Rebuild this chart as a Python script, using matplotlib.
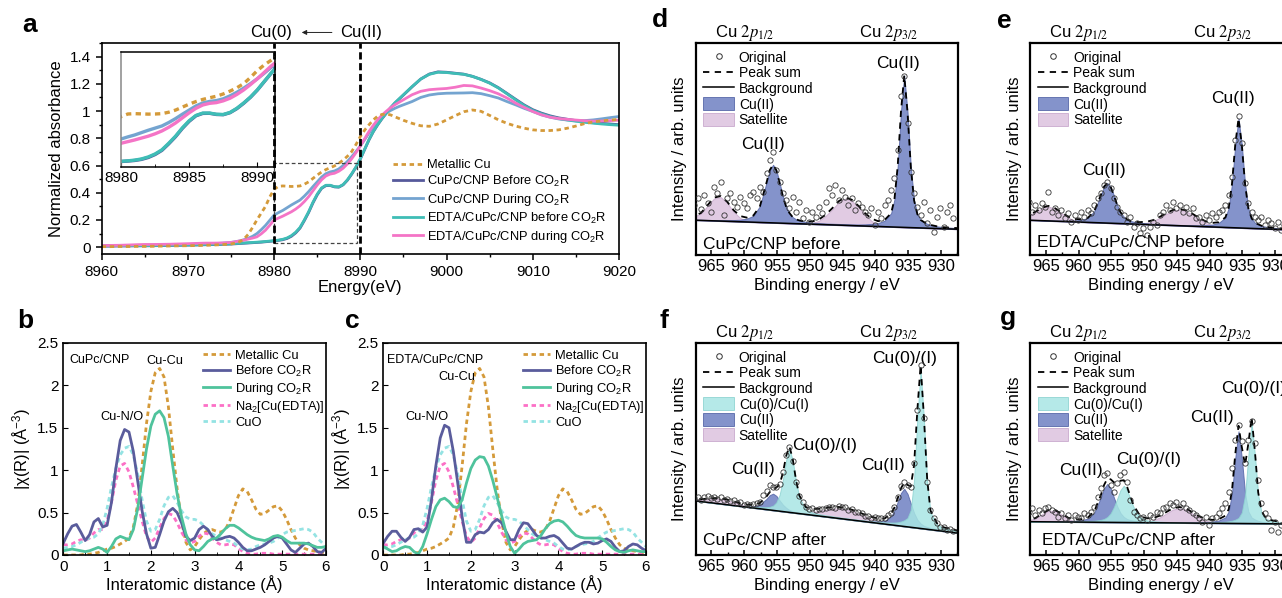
import numpy as np
import matplotlib
matplotlib.use("Agg")
import matplotlib.pyplot as plt
from matplotlib.lines import Line2D
from matplotlib.patches import Patch, Rectangle
from matplotlib.ticker import MultipleLocator, FuncFormatter
import matplotlib.transforms as mtransforms

plt.rcParams["font.family"] = ["Liberation Sans", "DejaVu Sans"]
plt.rcParams["mathtext.fontset"] = "custom"
plt.rcParams["mathtext.rm"] = "Liberation Sans"
plt.rcParams["mathtext.it"] = "Liberation Sans:italic"
plt.rcParams["mathtext.bf"] = "Liberation Sans:bold"
plt.rcParams["axes.linewidth"] = 1.2

# ---------------- panel a : Cu K-edge XANES ----------------
energy_a = np.concatenate([np.arange(8960, 8975.5, 1.0),
                           np.arange(8975.5, 8995.25, 0.5),
                           np.arange(8996, 9020.5, 1.0)])
xanes_metal = [.004, .004, .005, .005, .006, .006, .007, .008, .009, .010, .011, .012, .014, .016, .019, .024,
               .030, .040, .060, .095, .145, .200, .250, .300, .370, .425,
               .447, .450, .448, .446, .447, .450, .462, .480, .505, .530,
               .552, .570, .584, .597, .616, .640, .668, .703, .755, .813,
               .860, .899, .935, .962, .975, .978, .972, .958, .945, .932,
               .910, .892, .888, .905, .935, .966, .995, 1.008, .998, .968, .936, .910, .890, .874, .862,
               .857, .857, .862, .874, .890, .908, .920, .928, .934, .938]
xanes_cupc_before = [.008, .008, .009, .009, .010, .010, .011, .012, .013, .014, .015, .016, .018, .019, .021, .023,
                     .025, .027, .029, .031, .033, .035, .037, .040, .043, .046,
                     .050, .055, .064, .080, .105, .140, .195, .255, .325, .385,
                     .432, .452, .453, .443, .441, .458, .492, .537, .588, .648,
                     .718, .788, .848, .898, .943, .983, 1.022, 1.058, 1.088, 1.118,
                     1.178, 1.235, 1.272, 1.288, 1.285, 1.278, 1.271, 1.255, 1.233, 1.207, 1.172, 1.130, 1.087,
                     1.045, 1.010, .985, .965, .950, .940, .930, .922, .915, .910, .905, .900]
xanes_cupc_during = [.010, .011, .012, .013, .014, .015, .016, .017, .018, .019, .020, .022, .024, .026, .030, .035,
                     .040, .046, .055, .066, .080, .100, .128, .160, .198, .236,
                     .254, .270, .290, .310, .328, .346, .375, .408, .445, .480,
                     .515, .540, .553, .560, .575, .600, .630, .665, .703, .744,
                     .790, .838, .882, .924, .958, .985, 1.004, 1.020, 1.034, 1.046,
                     1.070, 1.100, 1.118, 1.127, 1.131, 1.132, 1.133, 1.135, 1.128, 1.113, 1.096, 1.070, 1.046,
                     1.020, .997, .972, .955, .942, .934, .929, .930, .935, .943, .952, .960]
xanes_edta_before = [.010, .010, .011, .011, .012, .012, .013, .014, .015, .016, .017, .018, .020, .021, .023, .025,
                     .027, .029, .031, .033, .035, .037, .039, .042, .045, .048,
                     .052, .058, .068, .085, .110, .145, .200, .260, .330, .390,
                     .435, .455, .455, .445, .443, .460, .495, .540, .590, .650,
                     .720, .790, .850, .900, .945, .985, 1.025, 1.060, 1.090, 1.120,
                     1.180, 1.235, 1.270, 1.285, 1.283, 1.276, 1.270, 1.255, 1.232, 1.205, 1.170, 1.127, 1.083,
                     1.040, 1.005, .980, .960, .945, .935, .925, .918, .911, .905, .900, .896]
xanes_edta_during = [.012, .013, .014, .016, .018, .020, .020, .021, .022, .024, .026, .028, .030, .030, .031, .035,
                     .040, .046, .052, .060, .067, .076, .098, .125, .162, .200,
                     .214, .228, .244, .260, .280, .304, .335, .371, .414, .457,
                     .495, .523, .537, .543, .558, .580, .612, .650, .695, .744,
                     .797, .850, .895, .936, .970, .998, 1.024, 1.046, 1.065, 1.083,
                     1.120, 1.145, 1.157, 1.162, 1.166, 1.175, 1.188, 1.185, 1.169, 1.150, 1.127, 1.096, 1.059,
                     1.027, .997, .973, .955, .945, .939, .934, .929, .926, .927, .930, .933]
labels_a = ["Metallic Cu", "CuPc/CNP Before CO$_2$R", "CuPc/CNP During CO$_2$R",
            "EDTA/CuPc/CNP before CO$_2$R", "EDTA/CuPc/CNP during CO$_2$R"]

# ---------------- panels b, c : FT-EXAFS ----------------
r_dist = np.round(np.arange(0, 6.05, 0.1), 1)
exafs_metal = [0, 0, 0, 0, 0, .01, .01, .02, .03, .05, .07, .08, .10, .13, .16, .20, .33, .60, 1.05, 1.55,
               1.93, 2.15, 2.20, 2.10, 1.75, 1.25, .78, .40, .15, .06, .10, .18, .25, .29, .30, .28, .27, .30, .40, .55,
               .70, .78, .75, .65, .54, .48, .49, .53, .57, .58, .52, .42, .30, .20, .12, .08, .06, .05, .04, .03, .02]
exafs_na2edta = [.12, .12, .13, .16, .18, .17, .20, .26, .30, .30, .40, .62, .88, 1.05, 1.08, .98, .80, .60, .40, .22,
                 .15, .20, .32, .43, .49, .47, .38, .27, .18, .14, .16, .22, .26, .25, .20, .15, .12, .12, .13, .12,
                 .08, .04, .02, .01, .01, .02, .02, .02, .01, .01, .01, .01, .01, .01, .01, .01, .01, .01, .01, .01, .01]
exafs_cuo = [.08, .09, .10, .12, .15, .18, .20, .21, .25, .35, .55, .80, 1.02, 1.18, 1.26, 1.28, 1.18, .95, .65, .40,
             .28, .30, .42, .58, .68, .70, .62, .52, .45, .42, .42, .40, .35, .30, .25, .22, .20, .18, .16, .14,
             .10, .07, .06, .07, .10, .12, .13, .14, .16, .20, .24, .27, .28, .29, .30, .31, .30, .27, .20, .15, .10]
b_before = [.14, .25, .34, .36, .27, .17, .24, .39, .43, .33, .35, .62, 1.02, 1.35, 1.48, 1.45, 1.22, .87, .52, .25,
            .08, .09, .24, .40, .51, .55, .50, .38, .22, .17, .20, .30, .34, .30, .22, .18, .19, .21, .22, .20,
            .15, .09, .05, .05, .07, .09, .12, .16, .20, .22, .20, .13, .06, .03, .08, .13, .14, .10, .04, .03, .08]
b_during = [.05, .06, .07, .06, .05, .04, .05, .07, .09, .07, .03, .10, .19, .22, .20, .18, .30, .55, .90, 1.25,
            1.52, 1.66, 1.70, 1.62, 1.40, 1.05, .72, .45, .25, .12, .06, .05, .10, .16, .19, .20, .25, .31, .35, .35,
            .32, .28, .24, .21, .19, .18, .17, .19, .22, .23, .21, .17, .14, .14, .14, .14, .13, .11, .09, .09, .10]
c_before = [.14, .22, .28, .28, .21, .16, .21, .30, .31, .27, .33, .65, 1.05, 1.38, 1.53, 1.50, 1.22, .85, .45, .15,
            .15, .24, .27, .26, .30, .38, .42, .38, .28, .18, .18, .30, .38, .37, .30, .23, .20, .20, .22, .23,
            .20, .14, .08, .07, .10, .13, .15, .15, .13, .14, .17, .19, .16, .09, .04, .05, .10, .13, .12, .08, .05]
c_during = [.10, .07, .04, .05, .08, .10, .09, .04, .01, .10, .25, .42, .57, .65, .67, .63, .57, .56, .65, .85,
            1.02, 1.12, 1.16, 1.15, 1.05, .88, .68, .47, .27, .10, .02, .07, .13, .16, .17, .18, .23, .31, .37, .40,
            .41, .39, .34, .28, .23, .21, .20, .20, .20, .20, .19, .15, .10, .06, .04, .03, .05, .06, .05, .04, .04]

# ---------------- panels d-g : Cu 2p XPS ----------------
E_fit = [968.6, 966.6, 965.6, 964.6, 963.6, 962.6, 961.6, 960.6, 959.6, 958.6, 957.6,
         956.6, 956.1, 955.6, 955.1, 954.6, 954.1, 953.6, 953.1, 952.6, 952.1, 951.6,
         950.6, 949.6, 948.6, 947.6, 946.6, 945.6, 944.6, 943.6, 942.6, 941.6, 940.6, 939.6, 938.6, 937.6,
         937.1, 936.6, 936.1, 935.6, 935.1, 934.6, 934.1, 933.6, 933.1, 932.6, 932.1, 931.6,
         930.6, 929.6, 927.1]
E_bg = [968.6, 927.1]
E_orig = np.arange(967.6, 927.85, -0.5)

d_cu2 = [.015, .02, .02, .025, .03, .035, .045, .06, .10, .19, .49,
         1.20, 1.58, 1.74, 1.58, 1.20, .80, .49, .31, .19, .13, .10,
         .06, .045, .04, .035, .035, .035, .035, .035, .04, .05, .07, .10, .18, .41,
         .82, 1.82, 3.46, 4.55, 3.46, 1.82, .82, .41, .24, .18, .13, .10,
         .065, .045, .03]
d_sat = [.03, .20, .44, .67, .72, .55, .29, .11, .03, .01, 0,
         0, 0, 0, 0, 0, 0, 0, 0, 0, 0, 0,
         .01, .04, .11, .26, .46, .68, .80, .74, .56, .34, .16, .06, .02, 0,
         0, 0, 0, 0, 0, 0, 0, 0, 0, 0, 0, 0,
         0, 0, 0]
d_bg = [0.30, 0.02]
d_orig = [.75, .95, .62, 1.05, .80, .55, 1.30, 1.10, 1.45, .45,
          .95, 1.10, .85, .70, 1.00, .80, .65, 1.05, 1.15, .95,
          1.30, 1.15, 1.70, 2.10, 2.35, 1.80, 1.45, 1.10, .90, .65,
          1.00, .55, .85, .35, .60, .25, .55, .40, .70, .50,
          .85, 1.25, 1.05, 1.35, .90, 1.20, 1.00, .75, .95, .60,
          .80, .70, .55, .45, .65, .15, .55, .35, .75, .90,
          1.20, 1.55, 2.40, 4.00, 4.60, 3.20, 1.75, 1.10, .70, .45,
          .85, .20, .60, -.05, .40, .65, .10, .55, .75, .35]

e_cu2 = [.01, .015, .015, .02, .02, .025, .03, .04, .07, .13, .34,
         .83, 1.09, 1.20, 1.09, .83, .55, .34, .21, .13, .09, .07,
         .045, .035, .03, .025, .025, .025, .025, .025, .03, .035, .05, .07, .13, .30,
         .59, 1.31, 2.49, 3.28, 2.49, 1.31, .59, .30, .17, .13, .09, .07,
         .047, .032, .02]
e_sat = [.07, .24, .37, .43, .37, .24, .12, .045, .015, 0, 0,
         0, 0, 0, 0, 0, 0, 0, 0, 0, 0, 0,
         .02, .05, .11, .22, .34, .44, .48, .44, .34, .22, .11, .05, .02, 0,
         0, 0, 0, 0, 0, 0, 0, 0, 0, 0, 0, 0,
         0, 0, 0]
e_bg = [0.30, 0.0]
e_orig = [.85, .55, .75, .60, .80, .70, 1.15, .55, .65, .45,
          .60, .35, .50, .25, .45, .30, .55, .40, .60, .50,
          .75, .95, 1.10, 1.35, 1.45, 1.25, .95, .70, .55, .45,
          .25, .40, .10, .20, -.10, .05, -.15, .10, .25, .15,
          .45, .55, .75, .60, .85, .65, .75, .55, .70, .50,
          .65, .35, .40, .25, .45, .30, .50, .40, .55, .60,
          .75, 1.05, 1.60, 2.70, 3.40, 2.60, 1.40, .80, .55, .40,
          .30, .40, .15, .30, .20, .05, .25, .00, .15, .05]

f_cu0 = [.007, .008, .009, .01, .011, .013, .015, .018, .023, .032, .048,
         .072, .095, .14, .25, .49, .95, 1.56, 1.90, 1.56, .95, .49,
         .146, .079, .056, .044, .04, .035, .033, .032, .032, .033, .036, .04, .049, .068,
         .08, .10, .135, .185, .265, .52, 1.43, 3.28, 4.75, 3.28, 1.43, .52,
         .18, .095, .05]
f_cu2 = [.003, .004, .005, .006, .007, .009, .012, .017, .026, .045, .125,
         .32, .445, .5, .445, .32, .205, .125, .07, .045, .033, .026,
         .017, .014, .011, .01, .01, .011, .012, .014, .018, .024, .034, .053, .09, .25,
         .44, .71, .99, 1.13, .99, .71, .44, .25, .147, .09, .068, .053,
         .034, .024, .016]
f_sat = [.016, .055, .096, .135, .15, .135, .096, .055, .026, .009, .003,
         0, 0, 0, 0, 0, 0, .001, .002, .004, .008, .027,
         .054, .096, .15, .21, .264, .296, .296, .264, .21, .15, .096, .054, .027, .013,
         .008, .005, .003, .002, .001, 0, 0, 0, 0, 0, 0, 0,
         0, 0, 0]
f_bg = [1.0, 0.0]
f_orig = [1.05, 1.08, 1.00, 1.10, 1.12, 1.05, 1.10, 1.02, 1.08, 1.00,
          1.04, .97, .99, .92, .93, .86, .89, .84, .87, .90,
          .95, 1.15, 1.28, 1.45, 1.40, 1.38, 1.47, 1.85, 2.35, 2.58,
          2.18, 1.55, 1.12, .95, .80, .73, .75, .70, .74, .72,
          .77, .79, .80, .76, .81, .78, .79, .71, .72, .64,
          .63, .60, .53, .52, .47, .48, .45, .46, .47, .55,
          .62, .80, 1.10, 1.42, 1.55, 1.45, 1.40, 2.10, 3.70, 5.05,
          3.45, 1.55, .70, .45, .30, .18, .20, .10, .14, .08]

g_cu0 = [.004, .006, .007, .008, .009, .011, .013, .017, .022, .031, .044,
         .072, .10, .16, .27, .46, .71, .97, 1.10, .97, .71, .46,
         .16, .072, .044, .034, .027, .023, .02, .018, .018, .018, .02, .024, .032, .048,
         .062, .08, .112, .166, .33, .85, 2.04, 3.0, 2.04, .85, .33, .165,
         .078, .046, .025]
g_cu2 = [.007, .009, .010, .012, .015, .018, .026, .037, .058, .104, .28,
         .74, 1.02, 1.15, 1.02, .74, .48, .28, .167, .104, .075, .058,
         .037, .03, .022, .02, .018, .017, .018, .018, .021, .025, .033, .049, .085, .18,
         .36, .90, 1.96, 2.76, 1.96, .90, .36, .18, .124, .083, .06, .047,
         .03, .021, .014]
g_sat = [.012, .09, .22, .33, .33, .22, .09, .026, .005, 0, 0,
         0, 0, 0, 0, 0, 0, 0, 0, 0, 0, 0,
         0, .028, .075, .16, .28, .40, .44, .40, .28, .16, .075, .028, .008, .002,
         0, 0, 0, 0, 0, 0, 0, 0, 0, 0, 0, 0,
         0, 0, 0]
g_bg = [0.15, 0.08]
g_orig = [.45, .55, .35, .50, .40, .55, .60, .50, .45, .30,
          .40, .25, .35, .20, .35, .30, .25, .40, .35, .45,
          .60, .90, 1.15, 1.55, 1.60, 1.25, 1.05, 1.30, 1.55, 1.65,
          1.35, .80, .45, .35, .25, .30, .20, .35, .30, .45,
          .40, .55, .60, .70, .65, .75, .60, .70, .55, .50,
          .40, .35, .25, .15, .30, .05, .25, .30, .40, .55,
          .70, 1.05, 1.75, 2.60, 3.05, 2.55, 1.90, 2.60, 3.15, 2.50,
          1.40, .70, .40, .25, -.10, .15, -.15, .05, .10, .00]

# ---------------- styling ----------------
C_METAL = "#d49a3a"
C_CUPC_B = "#56599b"
C_CUPC_D = "#74a4d0"
C_EDTA_B = "#3fbdb6"
C_EDTA_D = "#f474c6"
C_BEFORE = "#5a5c9c"
C_DURING = "#4fc39c"
C_NA2 = "#fc70c6"
C_CUO = "#94e3e3"
C_CU2 = "#6f80c2"
C_SAT = "#dcc2de"
C_CU0 = "#a8e6e4"
DOT = (0, (1.6, 1.3))

W, H = 1282, 598
fig = plt.figure(figsize=(W / 100, H / 100), dpi=100)


def frac_box(left, top, right, bottom):
    return [left / W, 1 - bottom / H, (right - left) / W, (bottom - top) / H]


fmt_g = FuncFormatter(lambda v, p: "%g" % v)

# ================= panel a =================
axa = fig.add_axes(frac_box(101.7, 43, 619, 254))
series_a = [(xanes_cupc_before, C_CUPC_B, "-"), (xanes_cupc_during, C_CUPC_D, "-"),
            (xanes_edta_before, C_EDTA_B, "-"), (xanes_edta_during, C_EDTA_D, "-"),
            (xanes_metal, C_METAL, DOT)]
handles_a = {}
for vals, col, ls in series_a:
    ln, = axa.plot(energy_a, vals, color=col, lw=2.0, ls=ls)
    handles_a[col] = ln
axa.set_xlim(8960, 9020)
axa.set_ylim(-0.05, 1.5)
axa.xaxis.set_major_locator(MultipleLocator(10))
axa.xaxis.set_minor_locator(MultipleLocator(5))
axa.yaxis.set_major_locator(MultipleLocator(0.2))
axa.yaxis.set_minor_locator(MultipleLocator(0.1))
axa.yaxis.set_major_formatter(fmt_g)
axa.tick_params(which="both", direction="out", labelsize=11)
axa.tick_params(which="major", length=4.5, width=1.1)
axa.tick_params(which="minor", length=2.5, width=1.0)
axa.set_xlabel("Energy(eV)", fontsize=12, labelpad=1)
axa.set_ylabel("Normalized absorbance", fontsize=12, labelpad=4)
for xv in (8980, 8990):
    axa.axvline(xv, color="k", lw=2.0, ls=(0, (2.6, 1.3)), zorder=5)
axa.add_patch(Rectangle((8980, 0.03), 9.6, 0.59, fill=False, lw=0.9,
                        ls=(0, (3, 2)), ec="#444444", zorder=4))
trans_a = mtransforms.blended_transform_factory(axa.transData, axa.transAxes)
axa.text(8979.7, 1.05, "Cu(0)", transform=trans_a, ha="center", va="center", fontsize=12)
axa.text(8990.1, 1.05, "Cu(II)", transform=trans_a, ha="center", va="center", fontsize=12)
axa.annotate("", xy=(8983.2, 1.05), xytext=(8986.7, 1.05), xycoords=trans_a, textcoords=trans_a,
             arrowprops=dict(arrowstyle="-|>", lw=0.7, color="#222222", mutation_scale=7,
                             shrinkA=0, shrinkB=0), annotation_clip=False)
leg_handles = [handles_a[C_METAL], handles_a[C_CUPC_B], handles_a[C_CUPC_D],
               handles_a[C_EDTA_B], handles_a[C_EDTA_D]]
axa.legend(leg_handles, labels_a, loc="upper left", bbox_to_anchor=(0.563, 0.45),
           frameon=False, fontsize=9.3, handlelength=2.3, handletextpad=0.35,
           labelspacing=0.22, borderaxespad=0, borderpad=0)

# inset
axi = fig.add_axes(frac_box(121, 52, 275, 167))
axi.patch.set_alpha(0)
for vals, col, ls in series_a:
    axi.plot(energy_a, vals, color=col, lw=2.4, ls=ls)
axi.set_xlim(8980, 8991.3)
axi.set_ylim(0.0, 0.97)
axi.set_yticks([])
axi.xaxis.set_major_locator(MultipleLocator(5))
axi.xaxis.set_minor_locator(MultipleLocator(2.5))
axi.tick_params(which="both", direction="in", labelsize=11, pad=3)
axi.tick_params(which="major", length=3.5)
axi.tick_params(which="minor", length=2)
axi.spines["left"].set_color("#888888")
for s in axi.spines.values():
    s.set_linewidth(1.1)


# ================= panels b, c =================
def exafs_panel(box, before, during, tag, tagx, cucu, cuno):
    ax = fig.add_axes(box)
    h_m, = ax.plot(r_dist, exafs_metal, color=C_METAL, lw=2.0, ls=DOT)
    h_n, = ax.plot(r_dist, exafs_na2edta, color=C_NA2, lw=2.0, ls=DOT)
    h_c, = ax.plot(r_dist, exafs_cuo, color=C_CUO, lw=2.0, ls=DOT)
    h_b, = ax.plot(r_dist, before, color=C_BEFORE, lw=2.0)
    h_d, = ax.plot(r_dist, during, color=C_DURING, lw=2.0)
    ax.set_xlim(0, 6)
    ax.set_ylim(0, 2.5)
    ax.xaxis.set_major_locator(MultipleLocator(1))
    ax.xaxis.set_minor_locator(MultipleLocator(0.5))
    ax.yaxis.set_major_locator(MultipleLocator(0.5))
    ax.yaxis.set_major_formatter(fmt_g)
    ax.tick_params(which="both", direction="in", labelsize=11)
    ax.tick_params(which="major", length=3.5)
    ax.tick_params(which="minor", length=2)
    ax.set_xlabel("Interatomic distance (Å)", fontsize=12, labelpad=1)
    ax.set_ylabel("|χ(R)| (Å$^{-3}$)", fontsize=12, labelpad=3)
    ax.legend([h_m, h_b, h_d, h_n, h_c],
              ["Metallic Cu", "Before CO$_2$R", "During CO$_2$R", "Na$_2$[Cu(EDTA)]", "CuO"],
              loc="upper left", bbox_to_anchor=(0.532, 0.968), frameon=False, fontsize=9.3,
              handlelength=2.1, handletextpad=0.4, labelspacing=0.15, borderaxespad=0, borderpad=0)
    ax.text(tagx, 2.30, tag, ha="left", va="center", fontsize=9)
    ax.text(cucu[0], cucu[1], "Cu-Cu", ha="center", va="center", fontsize=9.2)
    ax.text(cuno[0], cuno[1], "Cu-N/O", ha="center", va="center", fontsize=9.2)
    return ax


exafs_panel(frac_box(63.3, 343, 326, 555), b_before, b_during, "CuPc/CNP", 0.15, (2.32, 2.29), (1.33, 1.63))
exafs_panel(frac_box(383.3, 343, 646, 555), c_before, c_during, "EDTA/CuPc/CNP", 0.08, (1.68, 2.10), (0.99, 1.63))


# ================= panels d-g =================
def xps_panel(box, comps, bg_ends, orig, ylim, anns, sample, sample_pos):
    ax = fig.add_axes(box)
    ef = np.array(E_fit, dtype=float)
    bg = np.interp(ef, E_bg[::-1], bg_ends[::-1])
    total = bg.copy()
    handles = [Line2D([], [], ls="none", marker="o", mfc="none", mec="#333333", ms=4.0, mew=0.7),
               Line2D([], [], color="k", lw=1.3, ls=(0, (3.5, 3))),
               Line2D([], [], color="k", lw=1.1)]
    names = ["Original", "Peak sum", "Background"]
    patches = []
    for name, vals, col, ecol in comps:
        v = np.array(vals, dtype=float)
        ax.fill_between(ef, bg, bg + v, facecolor=col, edgecolor=ecol, lw=0.7, alpha=0.85, zorder=2)
        total = total + v
        patches.append(Patch(facecolor=col, edgecolor=ecol, alpha=0.85, lw=0.7, label=name))
    ax.plot(E_bg, bg_ends, color="k", lw=1.1, zorder=3)
    ax.plot(ef, total, color="k", lw=1.3, ls=(0, (3.5, 3)), zorder=4)
    ax.plot(E_orig, orig, ls="none", marker="o", mfc="none", mec="#333333", ms=3.8, mew=0.6, zorder=5)
    names_p = [c[0] for c in comps]
    order = ["Cu(0)/Cu(I)", "Cu(II)", "Satellite"]
    plist = [patches[names_p.index(nm)] for nm in order if nm in names_p]
    ax.legend(handles + plist, names + [p.get_label() for p in plist], loc="upper left",
              frameon=False, fontsize=10, handlelength=2.2, handleheight=1.05, handletextpad=0.35,
              labelspacing=0.1, borderaxespad=0.3, borderpad=0.25)
    ax.set_xlim(967.4, 927.4)
    ax.set_ylim(*ylim)
    ax.set_yticks([])
    ax.xaxis.set_major_locator(MultipleLocator(5))
    ax.xaxis.set_minor_locator(MultipleLocator(2.5))
    ax.tick_params(which="both", direction="in", labelsize=12, pad=3)
    ax.tick_params(which="major", length=3.5, width=1.1)
    ax.tick_params(which="minor", length=2, width=1.0)
    for s in ax.spines.values():
        s.set_linewidth(1.6)
    ax.set_xlabel("Binding energy / eV", fontsize=12, labelpad=3)
    ax.set_ylabel("Intensity / arb. units", fontsize=12, labelpad=6)
    for x, y, t, ha in anns:
        ax.text(x, y, t, ha=ha, va="bottom", fontsize=12.5)
    ax.text(sample_pos[0], sample_pos[1], sample, transform=ax.transAxes, ha="left", va="center",
            fontsize=12.5)
    tr = mtransforms.blended_transform_factory(ax.transData, ax.transAxes)
    ax.text(960.0, 1.027, r"Cu $2p_{\mathit{1/2}}$", transform=tr, ha="center", va="baseline",
            fontsize=12, math_fontfamily="stix")
    ax.text(938.0, 1.027, r"Cu $2p_{\mathit{3/2}}$", transform=tr, ha="center", va="baseline",
            fontsize=12, math_fontfamily="stix")
    return ax


comps_d = [("Satellite", d_sat, C_SAT, "#c9a9cd"), ("Cu(II)", d_cu2, C_CU2, "#5666a8")]
xps_panel(frac_box(695.7, 43, 958, 255), comps_d, d_bg, d_orig, (-0.75, 5.6),
          [(936.6, 4.75, "Cu(II)", "center"), (957.1, 2.35, "Cu(II)", "center")],
          "CuPc/CNP before", (0.028, 0.05))
comps_e = [("Satellite", e_sat, C_SAT, "#c9a9cd"), ("Cu(II)", e_cu2, C_CU2, "#5666a8")]
xps_panel(frac_box(1030, 43, 1292.3, 255), comps_e, e_bg, e_orig, (-0.75, 5.6),
          [(936.4, 3.70, "Cu(II)", "center"), (956.1, 1.55, "Cu(II)", "center")],
          "EDTA/CuPc/CNP before", (0.026, 0.057))
comps_f = [("Satellite", f_sat, C_SAT, "#c9a9cd"), ("Cu(II)", f_cu2, C_CU2, "#5666a8"),
           ("Cu(0)/Cu(I)", f_cu0, C_CU0, "#8fd4d2")]
xps_panel(frac_box(695.7, 343, 958, 555), comps_f, f_bg, f_orig, (-0.65, 5.7),
          [(935.5, 5.0, "Cu(0)/(I)", "center"), (938.9, 1.8, "Cu(II)", "center"),
           (947.8, 2.4, "Cu(0)/(I)", "center"), (958.6, 1.7, "Cu(II)", "center")],
          "CuPc/CNP after", (0.028, 0.07))
comps_g = [("Satellite", g_sat, C_SAT, "#c9a9cd"), ("Cu(II)", g_cu2, C_CU2, "#5666a8"),
           ("Cu(0)/Cu(I)", g_cu0, C_CU0, "#8fd4d2")]
xps_panel(frac_box(1030, 343, 1292.3, 555), comps_g, g_bg, g_orig, (-0.85, 5.5),
          [(938.2, 3.9, "Cu(0)/(I)", "left"), (939.6, 3.05, "Cu(II)", "center"),
           (949.3, 1.8, "Cu(0)/(I)", "center"), (959.7, 1.45, "Cu(II)", "center")],
          "EDTA/CuPc/CNP after", (0.044, 0.07))

# panel letters
for lt, x, yb in [("a", 22, 32), ("b", 17, 328), ("c", 345, 328), ("d", 652, 27),
                  ("e", 997, 28), ("f", 660, 328), ("g", 1000, 325)]:
    fig.text(x / W, 1 - yb / H, lt, fontsize=19, fontweight="bold", va="baseline", ha="left")

fig.savefig("out.png", dpi=100)
